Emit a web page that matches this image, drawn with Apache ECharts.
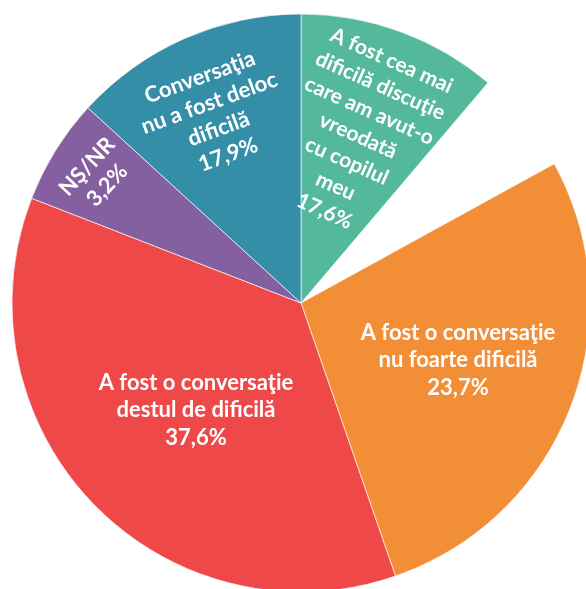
<!DOCTYPE html>
<html>
<head>
<meta charset="utf-8">
<script src="https://cdn.jsdelivr.net/npm/echarts@6/dist/echarts.min.js"></script>
<style>
  html, body { margin: 0; padding: 0; background: #fff; }
  #chart { width: 586px; height: 589px; }
</style>
</head>
<body>
<div id="chart"></div>
<script>
// slices, clockwise from 12 o'clock
const categories = [
  "A fost cea mai\ndificilă discuţie\ncare am avut-o\nvreodată\ncu copilul\nmeu",
  "",
  "A fost o conversaţie\nnu foarte dificilă",
  "A fost o conversaţie\ndestul de dificilă",
  "NŞ/NR",
  "Conversaţia\nnu a fost deloc\ndificilă"
];
// percentages printed on the slices
const percents = ["17,6%", "", "23,7%", "37,6%", "3,2%", "17,9%"];
// slice sizes as drawn in the picture (the second one is the blank wedge)
const sweeps = [11.2, 5.8, 27.7, 36.2, 5.9, 13.2];
const colors = ["#54b99b", "rgba(0,0,0,0)", "#f28e36", "#ef4848", "#8560a0", "#348ea8"];

// label placement: anchor point, rotation, size
const labelSpots = [[358, 136], null, [458, 360], [196, 410], [97, 176], [214, 116]];
const labelRotate = [-24, 0, 0, 0, 47, 20];
const labelSize = [21, 22, 22, 22, 22, 22];

const chart = echarts.init(document.getElementById("chart"));

const data = sweeps.map((v, i) => {
  const blank = categories[i] === "";
  return {
    name: categories[i],
    value: v,
    itemStyle: blank
      ? { color: colors[i], borderWidth: 0 }
      : { color: colors[i] },
    label: {
      show: !blank,
      rotate: labelRotate[i],
      fontSize: labelSize[i],
      formatter: categories[i] + "\n" + percents[i]
    },
    emphasis: { disabled: true }
  };
});

chart.setOption({
  animation: false,
  series: [
    {
      type: "pie",
      center: [301, 303],
      radius: [0, 289],
      startAngle: 90,
      clockwise: true,
      avoidLabelOverlap: false,
      itemStyle: {
        borderColor: "rgba(255,255,255,0.65)",
        borderWidth: 1
      },
      label: {
        position: "inside",
        color: "#fff",
        fontFamily: "Lato",
        fontWeight: "bold",
        fontSize: 22,
        lineHeight: 27.5,
        align: "center"
      },
      labelLine: { show: false },
      labelLayout: function (params) {
        const spot = labelSpots[params.dataIndex];
        if (!spot) return {};
        return { x: spot[0], y: spot[1] };
      },
      data: data
    }
  ]
});
</script>
</body>
</html>
